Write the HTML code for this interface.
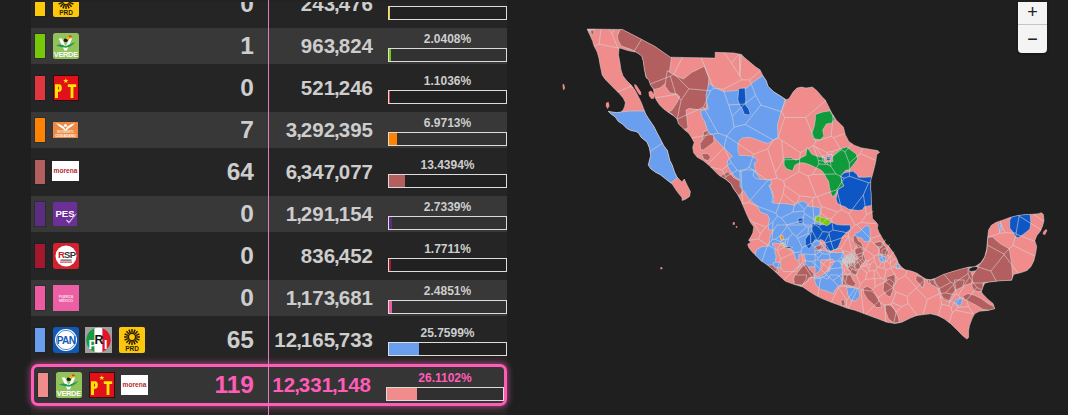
<!DOCTYPE html>
<html><head><meta charset="utf-8"><style>
*{margin:0;padding:0;box-sizing:border-box}
html,body{width:1068px;height:415px;overflow:hidden;background:#1f1f1f;font-family:"Liberation Sans",Arial,sans-serif}
#tbl{position:absolute;left:31px;top:0;width:476px;height:415px;background:#252525}
.rowl{position:absolute;left:31px;width:476px;height:36px;background:#383838}
.sw{position:absolute;left:35px;width:10px;height:24px;box-shadow:0 0 0 1px rgba(20,24,40,.3)}
.lg{position:absolute;line-height:0}
.lg svg{display:block}
.seats{position:absolute;right:814px;font-weight:bold;font-size:24.5px;line-height:28px;color:#cdcdcd;white-space:nowrap}
.votes{position:absolute;right:695px;font-weight:bold;font-size:20.5px;line-height:22px;color:#cdcdcd;white-space:nowrap}
.pct{position:absolute;left:388px;width:119px;text-align:center;font-weight:bold;font-size:12px;line-height:14px;color:#cdcdcd;white-space:nowrap}
.votes b{font-weight:bold;margin:0 -1px}
.bar{position:absolute;left:388px;width:119px;height:14px;border:1px solid #dcdcdc;background:rgba(0,0,0,.09)}
.bar i{display:block;height:12px}
#topclip{position:absolute;left:31px;top:0;width:476px;height:2px;background:#232323}
#vline{position:absolute;left:268px;top:0;width:1px;height:415px;background:#e07cc0}
.hl{position:absolute;left:31px;top:364px;width:476px;height:42px;border:3px solid #ff5cb8;border-radius:7px;background:#353535;box-shadow:0 0 6px 1px rgba(255,92,184,.55)}
#zoom{position:absolute;left:1018px;top:2px;width:29px;height:51px;background:#f4f4f4;border-radius:0 0 4px 4px;box-shadow:0 1px 3px rgba(0,0,0,.4)}
#zoom div{height:22px;text-align:center;font:18px/21px "Liberation Sans",sans-serif;color:#222}
#zoom div+div{height:29px;line-height:28px;border-top:1px solid #c4c4c4}
#map{position:absolute;left:0;top:0}
</style></head><body>
<div id="tbl"></div>
<div class="rowl" style="top:28px"></div><div class="rowl" style="top:112px"></div><div class="rowl" style="top:196px"></div><div class="rowl" style="top:280px"></div><div class="sw" style="top:-8px;background:#fdca0b"></div><div class="lg" style="left:53px;top:-9px"><svg width="26" height="26" viewBox="0 0 26 26"><rect x="0" y="0" width="26" height="26" rx="2" fill="#fdc80c"/><line x1="17.20" y1="10.00" x2="21.00" y2="10.00" stroke="#2a1e00" stroke-width="1.5"/><line x1="16.88" y1="11.61" x2="20.39" y2="13.06" stroke="#2a1e00" stroke-width="1.5"/><line x1="15.97" y1="12.97" x2="18.66" y2="15.66" stroke="#2a1e00" stroke-width="1.5"/><line x1="14.61" y1="13.88" x2="16.06" y2="17.39" stroke="#2a1e00" stroke-width="1.5"/><line x1="13.00" y1="14.20" x2="13.00" y2="18.00" stroke="#2a1e00" stroke-width="1.5"/><line x1="11.39" y1="13.88" x2="9.94" y2="17.39" stroke="#2a1e00" stroke-width="1.5"/><line x1="10.03" y1="12.97" x2="7.34" y2="15.66" stroke="#2a1e00" stroke-width="1.5"/><line x1="9.12" y1="11.61" x2="5.61" y2="13.06" stroke="#2a1e00" stroke-width="1.5"/><line x1="8.80" y1="10.00" x2="5.00" y2="10.00" stroke="#2a1e00" stroke-width="1.5"/><line x1="9.12" y1="8.39" x2="5.61" y2="6.94" stroke="#2a1e00" stroke-width="1.5"/><line x1="10.03" y1="7.03" x2="7.34" y2="4.34" stroke="#2a1e00" stroke-width="1.5"/><line x1="11.39" y1="6.12" x2="9.94" y2="2.61" stroke="#2a1e00" stroke-width="1.5"/><line x1="13.00" y1="5.80" x2="13.00" y2="2.00" stroke="#2a1e00" stroke-width="1.5"/><line x1="14.61" y1="6.12" x2="16.06" y2="2.61" stroke="#2a1e00" stroke-width="1.5"/><line x1="15.97" y1="7.03" x2="18.66" y2="4.34" stroke="#2a1e00" stroke-width="1.5"/><line x1="16.88" y1="8.39" x2="20.39" y2="6.94" stroke="#2a1e00" stroke-width="1.5"/><circle cx="13" cy="10" r="3.6" fill="#fdc80c" stroke="#2a1e00" stroke-width="1.4"/><text x="13" y="24" text-anchor="middle" style="font-family:'Liberation Sans',sans-serif;font-weight:bold;font-size:6.5px" fill="#2a1e00">PRD</text></svg></div><div class="seats" style="top:-10px">0</div><div class="votes" style="top:-7px">243<b>,</b>476</div><div class="bar" style="top:6px"><i style="width:0.6px;background:#fdca0b"></i></div><div class="sw" style="top:34px;background:#78c80a"></div><div class="lg" style="left:53px;top:33px"><svg width="26" height="26" viewBox="0 0 26 26"><rect x="0" y="0" width="26" height="26" rx="2.5" fill="#92c25a"/><path d="M5.6 5.6 L9 5.6 L12.6 13.6 L16.4 5.6 L19.2 5.6 L13.8 17.6 L11.4 17.6 Z" fill="#fff"/><path d="M3 12.6 Q8 10 12.6 13.2 Q17.5 11 22 9 Q19 13.6 13 14.8 Q8 14.6 3 12.6Z" fill="#1f9a55"/><ellipse cx="12.8" cy="7.2" rx="2" ry="1.9" fill="#1a1a1a"/><path d="M12.4 5.4 Q15.5 1.6 19.4 3.2 L14.6 6.4Z" fill="#f5b400"/><path d="M15.4 2.8 Q17.6 2 19.4 3.2 L16.6 4.4Z" fill="#e5302a"/><text x="12.8" y="24.3" text-anchor="middle" style="font-family:'Liberation Sans',sans-serif;font-weight:bold;font-size:7.4px;letter-spacing:-0.3px" fill="#fff">VERDE</text></svg></div><div class="seats" style="top:32px">1</div><div class="votes" style="top:35px">963<b>,</b>824</div><div class="pct" style="top:32px">2.0408%</div><div class="bar" style="top:48px"><i style="width:2.4px;background:#78c80a"></i></div><div class="sw" style="top:76px;background:#e2363e"></div><div class="lg" style="left:53px;top:75px"><svg width="26" height="26" viewBox="0 0 26 26"><rect x="0" y="0" width="26" height="26" fill="#3a0a0a"/><rect x="1" y="1" width="24" height="24" fill="#e2101a"/><path d="M12.8 3.3 L13.5 5.1 L15.4 5.1 L13.9 6.2 L14.5 8 L12.8 6.9 L11.1 8 L11.7 6.2 L10.2 5.1 L12.1 5.1Z" fill="#ffe600"/><path fill-rule="evenodd" d="M2 9.3 H6.2 Q8.8 9.3 8.8 13 Q8.8 16.8 6.2 16.8 H5 V23.1 H2Z M5 11.7 H5.9 Q6 11.7 6 13 Q6 14.4 5.9 14.4 H5Z" fill="#ffe600"/><path d="M14.8 9.3 H23.2 V12.1 H20.4 V23.1 H17.6 V12.1 H14.8Z" fill="#ffe600"/></svg></div><div class="seats" style="top:74px">0</div><div class="votes" style="top:77px">521<b>,</b>246</div><div class="pct" style="top:74px">1.1036%</div><div class="bar" style="top:90px"><i style="width:1.3px;background:#e2363e"></i></div><div class="sw" style="top:118px;background:#ff8200"></div><div class="lg" style="left:53px;top:122px"><svg width="25" height="16" viewBox="0 0 25 16"><rect x="0" y="0" width="25" height="16" fill="#ee8a45"/><path d="M3 1 Q7.5 2 10.5 4.5 L12.5 7.5 L14.5 4.5 Q17.5 2 22 1 Q19.5 4.5 15.5 6.5 L13.3 8.6 L11.7 8.6 L9.5 6.5 Q5.5 4.5 3 1Z" fill="#fff"/><circle cx="12.5" cy="3.6" r="1.5" fill="#fff"/><text x="12.5" y="11.3" text-anchor="middle" style="font-family:'Liberation Sans',sans-serif;font-weight:bold;font-size:2.6px" fill="#fde6d4">MOVIMIENTO</text><text x="12.5" y="14.6" text-anchor="middle" style="font-family:'Liberation Sans',sans-serif;font-weight:bold;font-size:3.4px" fill="#fff">CIUDADANO</text></svg></div><div class="seats" style="top:116px">7</div><div class="votes" style="top:119px">3<b>,</b>292<b>,</b>395</div><div class="pct" style="top:116px">6.9713%</div><div class="bar" style="top:132px"><i style="width:8.2px;background:#ff8200"></i></div><div class="sw" style="top:160px;background:#b35f5f"></div><div class="lg" style="left:52px;top:161px"><svg width="27" height="20" viewBox="0 0 27 20"><rect x="0" y="0" width="27" height="20" fill="#fff"/><text x="13.5" y="12.2" text-anchor="middle" style="font-family:'Liberation Sans',sans-serif;font-weight:bold;font-size:6.6px" fill="#b9282e">morena</text></svg></div><div class="seats" style="top:158px">64</div><div class="votes" style="top:161px">6<b>,</b>347<b>,</b>077</div><div class="pct" style="top:158px">13.4394%</div><div class="bar" style="top:174px"><i style="width:15.7px;background:#b35f5f"></i></div><div class="sw" style="top:202px;background:#5b2c80"></div><div class="lg" style="left:53px;top:202px"><svg width="24" height="24" viewBox="0 0 24 24"><rect x="0" y="0" width="24" height="24" rx="1" fill="#6c2f98"/><text x="2.5" y="14.5" style="font-family:'Liberation Sans',sans-serif;font-weight:bold;font-size:9.5px" fill="#fff">PES</text><path d="M13 18.5 L16 21.5 L24 11.5 L22.5 12 L16 19.5 L14 17.5Z" fill="#d9c3ee"/></svg></div><div class="seats" style="top:200px">0</div><div class="votes" style="top:203px">1<b>,</b>291<b>,</b>154</div><div class="pct" style="top:200px">2.7339%</div><div class="bar" style="top:216px"><i style="width:3.2px;background:#5b2c80"></i></div><div class="sw" style="top:244px;background:#a3182c"></div><div class="lg" style="left:53px;top:243px"><svg width="26" height="26" viewBox="0 0 26 26"><rect x="0" y="0" width="26" height="26" rx="2.5" fill="#d5202e"/><circle cx="13" cy="13" r="10.5" fill="#fff"/><text x="5" y="14.5" style="font-family:'Liberation Sans',sans-serif;font-weight:bold;font-size:9.5px;letter-spacing:-0.6px" fill="#c8202c">R</text><text x="11" y="14.5" style="font-family:'Liberation Sans',sans-serif;font-weight:bold;font-size:9.5px;letter-spacing:-0.6px" fill="#333">SP</text><rect x="7.5" y="16.5" width="11" height="1.2" fill="#555"/><rect x="7" y="18.6" width="12" height="1" fill="#d5202e"/></svg></div><div class="seats" style="top:242px">0</div><div class="votes" style="top:245px">836<b>,</b>452</div><div class="pct" style="top:242px">1.7711%</div><div class="bar" style="top:258px"><i style="width:2.1px;background:#a3182c"></i></div><div class="sw" style="top:286px;background:#ee5aa2"></div><div class="lg" style="left:53px;top:285px"><svg width="26" height="26" viewBox="0 0 26 26"><rect x="0" y="0" width="26" height="26" fill="#ec5fa4"/><text x="13" y="12.5" text-anchor="middle" style="font-family:'Liberation Sans',sans-serif;font-weight:bold;font-size:3.6px" fill="#fbe0ee">FUERZA</text><text x="13" y="16.5" text-anchor="middle" style="font-family:'Liberation Sans',sans-serif;font-weight:bold;font-size:3.6px" fill="#fbe0ee">MÉXICO</text></svg></div><div class="seats" style="top:284px">0</div><div class="votes" style="top:287px">1<b>,</b>173<b>,</b>681</div><div class="pct" style="top:284px">2.4851%</div><div class="bar" style="top:300px"><i style="width:2.9px;background:#ee5aa2"></i></div><div class="sw" style="top:328px;background:#6a9ff0"></div><div class="lg" style="left:53px;top:327px"><svg width="26" height="26" viewBox="0 0 26 26"><rect x="0" y="0" width="26" height="26" rx="3" fill="#1159b6"/><circle cx="13" cy="13" r="11" fill="#fff"/><circle cx="13" cy="13" r="9.6" fill="none" stroke="#1159b6" stroke-width="0.7"/><text x="13" y="16.8" text-anchor="middle" style="font-family:'Liberation Sans',sans-serif;font-weight:bold;font-size:10px;letter-spacing:-0.6px" fill="#1159b6">PAN</text></svg></div><div class="lg" style="left:85px;top:327px"><svg width="27" height="26" viewBox="0 0 27 26"><rect x="0" y="0" width="27" height="26" fill="#a0a0a0"/><clipPath id="pric"><circle cx="13.5" cy="13" r="12.2"/></clipPath><g clip-path="url(#pric)"><rect x="0" y="0" width="9.5" height="26" fill="#169b44"/><rect x="9.5" y="0" width="8" height="26" fill="#fff"/><rect x="17.5" y="0" width="10" height="26" fill="#e2142a"/></g><text x="3.6" y="21.5" style="font-family:'Liberation Sans',sans-serif;font-weight:bold;font-size:12.5px" fill="#fff">P</text><text x="9.6" y="16.5" style="font-family:'Liberation Sans',sans-serif;font-weight:bold;font-size:12.5px" fill="#111">R</text><text x="19" y="21.5" style="font-family:'Liberation Sans',sans-serif;font-weight:bold;font-size:12.5px" fill="#fff">I</text></svg></div><div class="lg" style="left:119px;top:327px"><svg width="26" height="26" viewBox="0 0 26 26"><rect x="0" y="0" width="26" height="26" rx="2" fill="#fdc80c"/><line x1="17.20" y1="10.00" x2="21.00" y2="10.00" stroke="#2a1e00" stroke-width="1.5"/><line x1="16.88" y1="11.61" x2="20.39" y2="13.06" stroke="#2a1e00" stroke-width="1.5"/><line x1="15.97" y1="12.97" x2="18.66" y2="15.66" stroke="#2a1e00" stroke-width="1.5"/><line x1="14.61" y1="13.88" x2="16.06" y2="17.39" stroke="#2a1e00" stroke-width="1.5"/><line x1="13.00" y1="14.20" x2="13.00" y2="18.00" stroke="#2a1e00" stroke-width="1.5"/><line x1="11.39" y1="13.88" x2="9.94" y2="17.39" stroke="#2a1e00" stroke-width="1.5"/><line x1="10.03" y1="12.97" x2="7.34" y2="15.66" stroke="#2a1e00" stroke-width="1.5"/><line x1="9.12" y1="11.61" x2="5.61" y2="13.06" stroke="#2a1e00" stroke-width="1.5"/><line x1="8.80" y1="10.00" x2="5.00" y2="10.00" stroke="#2a1e00" stroke-width="1.5"/><line x1="9.12" y1="8.39" x2="5.61" y2="6.94" stroke="#2a1e00" stroke-width="1.5"/><line x1="10.03" y1="7.03" x2="7.34" y2="4.34" stroke="#2a1e00" stroke-width="1.5"/><line x1="11.39" y1="6.12" x2="9.94" y2="2.61" stroke="#2a1e00" stroke-width="1.5"/><line x1="13.00" y1="5.80" x2="13.00" y2="2.00" stroke="#2a1e00" stroke-width="1.5"/><line x1="14.61" y1="6.12" x2="16.06" y2="2.61" stroke="#2a1e00" stroke-width="1.5"/><line x1="15.97" y1="7.03" x2="18.66" y2="4.34" stroke="#2a1e00" stroke-width="1.5"/><line x1="16.88" y1="8.39" x2="20.39" y2="6.94" stroke="#2a1e00" stroke-width="1.5"/><circle cx="13" cy="10" r="3.6" fill="#fdc80c" stroke="#2a1e00" stroke-width="1.4"/><text x="13" y="24" text-anchor="middle" style="font-family:'Liberation Sans',sans-serif;font-weight:bold;font-size:6.5px" fill="#2a1e00">PRD</text></svg></div><div class="seats" style="top:326px">65</div><div class="votes" style="top:329px">12<b>,</b>165<b>,</b>733</div><div class="pct" style="top:326px">25.7599%</div><div class="bar" style="top:342px"><i style="width:30.1px;background:#6a9ff0"></i></div>
<div class="hl"></div><div class="sw" style="left:38px;top:373px;background:#f08c8c"></div><div class="lg" style="left:56px;top:372px"><svg width="26" height="26" viewBox="0 0 26 26"><rect x="0" y="0" width="26" height="26" rx="2.5" fill="#92c25a"/><path d="M5.6 5.6 L9 5.6 L12.6 13.6 L16.4 5.6 L19.2 5.6 L13.8 17.6 L11.4 17.6 Z" fill="#fff"/><path d="M3 12.6 Q8 10 12.6 13.2 Q17.5 11 22 9 Q19 13.6 13 14.8 Q8 14.6 3 12.6Z" fill="#1f9a55"/><ellipse cx="12.8" cy="7.2" rx="2" ry="1.9" fill="#1a1a1a"/><path d="M12.4 5.4 Q15.5 1.6 19.4 3.2 L14.6 6.4Z" fill="#f5b400"/><path d="M15.4 2.8 Q17.6 2 19.4 3.2 L16.6 4.4Z" fill="#e5302a"/><text x="12.8" y="24.3" text-anchor="middle" style="font-family:'Liberation Sans',sans-serif;font-weight:bold;font-size:7.4px;letter-spacing:-0.3px" fill="#fff">VERDE</text></svg></div><div class="lg" style="left:89px;top:372px"><svg width="26" height="26" viewBox="0 0 26 26"><rect x="0" y="0" width="26" height="26" fill="#3a0a0a"/><rect x="1" y="1" width="24" height="24" fill="#e2101a"/><path d="M12.8 3.3 L13.5 5.1 L15.4 5.1 L13.9 6.2 L14.5 8 L12.8 6.9 L11.1 8 L11.7 6.2 L10.2 5.1 L12.1 5.1Z" fill="#ffe600"/><path fill-rule="evenodd" d="M2 9.3 H6.2 Q8.8 9.3 8.8 13 Q8.8 16.8 6.2 16.8 H5 V23.1 H2Z M5 11.7 H5.9 Q6 11.7 6 13 Q6 14.4 5.9 14.4 H5Z" fill="#ffe600"/><path d="M14.8 9.3 H23.2 V12.1 H20.4 V23.1 H17.6 V12.1 H14.8Z" fill="#ffe600"/></svg></div><div class="lg" style="left:121px;top:375px"><svg width="27" height="20" viewBox="0 0 27 20"><rect x="0" y="0" width="27" height="20" fill="#fff"/><text x="13.5" y="12.2" text-anchor="middle" style="font-family:'Liberation Sans',sans-serif;font-weight:bold;font-size:6.6px" fill="#b9282e">morena</text></svg></div><div class="seats" style="top:371px;color:#ff5cb8">119</div><div class="votes" style="top:374px;right:697px;color:#ff5cb8">12<b>,</b>331<b>,</b>148</div><div class="pct" style="top:371px;left:386px;width:118px;color:#ff5cb8">26.1102%</div><div class="bar" style="top:387px;left:386px;width:118px"><i style="width:30.3px;background:#f08c8c"></i></div>
<div id="topclip"></div>
<div id="vline"></div>
<svg id="map" width="1068" height="415" viewBox="0 0 1068 415">
<defs><clipPath id="mx"><polygon points="587.2,29.0 622.5,29.5 640.0,38.5 655.0,46.5 670.4,57.2 715.2,58.1 715.2,52.3 734.1,53.0 741.4,54.5 745.0,58.1 750.4,62.6 755.8,67.1 760.0,69.8 762.7,75.3 766.3,80.7 768.1,86.2 773.5,91.6 780.7,96.1 786.2,99.7 788.9,98.8 793.4,91.6 797.0,88.0 801.5,87.1 806.0,88.0 812.4,87.1 816.9,90.7 822.3,97.0 825.3,100.0 828.9,107.2 831.6,112.7 836.2,119.9 838.9,122.6 843.4,127.1 845.2,134.4 848.8,141.6 854.2,145.2 861.5,147.9 866.9,148.8 872.3,149.7 877.8,150.6 879.6,152.4 876.9,154.2 875.5,162.7 872.5,174.7 870.8,180.0 870.6,189.2 871.1,192.0 871.5,205.0 872.0,212.0 872.5,218.4 874.5,220.5 876.5,222.5 878.0,225.0 877.4,228.2 879.1,232.5 882.3,238.0 885.6,243.4 888.3,245.8 892.6,251.6 896.2,257.4 898.4,263.1 901.3,266.8 904.9,269.7 911.4,271.1 917.2,273.3 922.3,276.9 925.9,279.1 930.2,279.8 935.0,278.5 943.4,274.4 952.4,271.6 961.5,268.9 968.7,267.1 975.0,266.7 980.8,262.8 984.6,257.0 986.6,249.3 987.5,239.7 988.5,230.1 991.4,225.2 996.2,222.3 1002.0,220.4 1009.7,217.5 1017.4,215.6 1025.1,214.6 1032.8,214.3 1038.6,213.7 1041.5,212.7 1043.4,214.6 1044.0,220.4 1042.5,226.2 1040.5,231.0 1036.7,235.8 1034.8,240.7 1036.7,246.4 1035.7,253.2 1033.8,260.9 1030.9,266.7 1027.0,270.5 1021.3,272.5 1017.4,273.4 1013.6,274.4 1012.6,277.3 1011.6,280.2 1000.0,280.8 988.0,282.2 984.6,283.4 983.0,286.8 981.3,291.8 983.0,294.3 988.0,299.4 993.1,303.6 994.8,308.7 988.0,310.4 979.6,311.2 974.5,313.8 972.0,318.8 969.5,325.6 968.6,330.6 968.6,337.4 966.9,339.1 962.7,335.7 957.6,330.6 950.9,323.9 944.1,318.8 937.4,315.4 930.6,313.8 923.9,314.6 917.1,315.4 910.4,318.0 901.9,322.2 895.2,323.5 886.8,322.2 878.0,318.8 870.3,316.0 862.6,313.1 854.9,310.2 847.2,308.2 839.5,305.3 831.7,302.4 822.1,298.6 814.4,294.7 808.6,290.9 802.8,287.0 793.2,284.1 785.4,281.2 779.6,276.0 774.5,271.0 767.1,264.8 761.0,260.7 755.8,255.5 751.7,251.5 748.7,247.4 747.7,244.3 750.7,242.2 748.7,240.2 750.7,237.1 752.8,233.0 753.8,226.9 750.7,222.8 746.5,214.0 744.0,208.0 741.0,201.0 737.5,194.2 733.5,188.8 730.6,183.4 725.2,178.9 718.9,175.3 714.4,170.7 708.9,165.3 703.5,160.8 697.2,157.2 693.6,152.7 692.7,147.2 694.2,142.6 691.8,137.9 688.7,133.2 684.8,130.1 681.7,127.0 678.5,123.8 677.0,119.1 673.8,116.0 669.1,112.9 663.7,109.0 659.7,105.0 656.6,100.4 654.3,95.7 653.5,89.4 650.4,84.7 648.8,80.0 646.0,77.4 644.2,68.4 643.3,61.2 641.5,55.7 636.0,52.1 632.4,51.5 627.0,50.3 621.5,48.5 619.0,48.0 618.5,55.0 619.8,62.0 621.0,70.0 623.0,76.0 626.8,80.8 631.2,85.1 635.5,90.9 638.4,96.7 641.3,102.5 643.5,108.3 645.7,114.0 648.5,118.4 651.4,122.7 654.3,127.1 657.2,132.9 660.2,138.6 663.9,145.8 667.5,150.6 669.9,160.2 672.3,165.1 674.7,172.3 677.1,177.1 681.9,181.9 684.3,179.0 686.7,184.3 690.4,191.6 689.6,196.4 686.0,199.0 682.2,200.5 681.9,197.6 677.1,191.6 672.3,184.3 666.3,179.5 660.2,174.7 655.4,172.3 650.6,168.7 648.2,165.1 650.6,155.4 649.4,148.2 647.0,142.2 641.0,137.3 638.4,132.9 635.5,131.4 631.2,130.7 626.8,128.5 622.5,124.2 618.1,121.3 615.2,117.0 610.9,114.0 608.0,111.2 612.4,111.9 616.7,112.6 621.0,111.9 623.2,109.7 624.6,106.8 625.4,102.5 623.2,98.1 619.6,93.8 615.2,89.5 609.5,83.7 605.1,79.3 602.2,75.0 599.9,63.9 599.0,58.5 597.2,52.1 593.6,44.9 592.7,41.3 589.0,33.1"/></clipPath></defs>
<polygon points="587.2,29.0 622.5,29.5 640.0,38.5 655.0,46.5 670.4,57.2 715.2,58.1 715.2,52.3 734.1,53.0 741.4,54.5 745.0,58.1 750.4,62.6 755.8,67.1 760.0,69.8 762.7,75.3 766.3,80.7 768.1,86.2 773.5,91.6 780.7,96.1 786.2,99.7 788.9,98.8 793.4,91.6 797.0,88.0 801.5,87.1 806.0,88.0 812.4,87.1 816.9,90.7 822.3,97.0 825.3,100.0 828.9,107.2 831.6,112.7 836.2,119.9 838.9,122.6 843.4,127.1 845.2,134.4 848.8,141.6 854.2,145.2 861.5,147.9 866.9,148.8 872.3,149.7 877.8,150.6 879.6,152.4 876.9,154.2 875.5,162.7 872.5,174.7 870.8,180.0 870.6,189.2 871.1,192.0 871.5,205.0 872.0,212.0 872.5,218.4 874.5,220.5 876.5,222.5 878.0,225.0 877.4,228.2 879.1,232.5 882.3,238.0 885.6,243.4 888.3,245.8 892.6,251.6 896.2,257.4 898.4,263.1 901.3,266.8 904.9,269.7 911.4,271.1 917.2,273.3 922.3,276.9 925.9,279.1 930.2,279.8 935.0,278.5 943.4,274.4 952.4,271.6 961.5,268.9 968.7,267.1 975.0,266.7 980.8,262.8 984.6,257.0 986.6,249.3 987.5,239.7 988.5,230.1 991.4,225.2 996.2,222.3 1002.0,220.4 1009.7,217.5 1017.4,215.6 1025.1,214.6 1032.8,214.3 1038.6,213.7 1041.5,212.7 1043.4,214.6 1044.0,220.4 1042.5,226.2 1040.5,231.0 1036.7,235.8 1034.8,240.7 1036.7,246.4 1035.7,253.2 1033.8,260.9 1030.9,266.7 1027.0,270.5 1021.3,272.5 1017.4,273.4 1013.6,274.4 1012.6,277.3 1011.6,280.2 1000.0,280.8 988.0,282.2 984.6,283.4 983.0,286.8 981.3,291.8 983.0,294.3 988.0,299.4 993.1,303.6 994.8,308.7 988.0,310.4 979.6,311.2 974.5,313.8 972.0,318.8 969.5,325.6 968.6,330.6 968.6,337.4 966.9,339.1 962.7,335.7 957.6,330.6 950.9,323.9 944.1,318.8 937.4,315.4 930.6,313.8 923.9,314.6 917.1,315.4 910.4,318.0 901.9,322.2 895.2,323.5 886.8,322.2 878.0,318.8 870.3,316.0 862.6,313.1 854.9,310.2 847.2,308.2 839.5,305.3 831.7,302.4 822.1,298.6 814.4,294.7 808.6,290.9 802.8,287.0 793.2,284.1 785.4,281.2 779.6,276.0 774.5,271.0 767.1,264.8 761.0,260.7 755.8,255.5 751.7,251.5 748.7,247.4 747.7,244.3 750.7,242.2 748.7,240.2 750.7,237.1 752.8,233.0 753.8,226.9 750.7,222.8 746.5,214.0 744.0,208.0 741.0,201.0 737.5,194.2 733.5,188.8 730.6,183.4 725.2,178.9 718.9,175.3 714.4,170.7 708.9,165.3 703.5,160.8 697.2,157.2 693.6,152.7 692.7,147.2 694.2,142.6 691.8,137.9 688.7,133.2 684.8,130.1 681.7,127.0 678.5,123.8 677.0,119.1 673.8,116.0 669.1,112.9 663.7,109.0 659.7,105.0 656.6,100.4 654.3,95.7 653.5,89.4 650.4,84.7 648.8,80.0 646.0,77.4 644.2,68.4 643.3,61.2 641.5,55.7 636.0,52.1 632.4,51.5 627.0,50.3 621.5,48.5 619.0,48.0 618.5,55.0 619.8,62.0 621.0,70.0 623.0,76.0 626.8,80.8 631.2,85.1 635.5,90.9 638.4,96.7 641.3,102.5 643.5,108.3 645.7,114.0 648.5,118.4 651.4,122.7 654.3,127.1 657.2,132.9 660.2,138.6 663.9,145.8 667.5,150.6 669.9,160.2 672.3,165.1 674.7,172.3 677.1,177.1 681.9,181.9 684.3,179.0 686.7,184.3 690.4,191.6 689.6,196.4 686.0,199.0 682.2,200.5 681.9,197.6 677.1,191.6 672.3,184.3 666.3,179.5 660.2,174.7 655.4,172.3 650.6,168.7 648.2,165.1 650.6,155.4 649.4,148.2 647.0,142.2 641.0,137.3 638.4,132.9 635.5,131.4 631.2,130.7 626.8,128.5 622.5,124.2 618.1,121.3 615.2,117.0 610.9,114.0 608.0,111.2 612.4,111.9 616.7,112.6 621.0,111.9 623.2,109.7 624.6,106.8 625.4,102.5 623.2,98.1 619.6,93.8 615.2,89.5 609.5,83.7 605.1,79.3 602.2,75.0 599.9,63.9 599.0,58.5 597.2,52.1 593.6,44.9 592.7,41.3 589.0,33.1" fill="#f08c8c" />
<polygon points="648.5,92.0 651.0,90.5 654.0,94.0 654.3,98.5 651.5,98.9 649.0,96.0" fill="#f08c8c" />
<polygon points="634.0,84.5 636.0,84.4 641.0,92.0 641.3,95.2 639.0,94.5 635.0,88.0" fill="#f08c8c" />
<polygon points="606.0,103.0 608.5,101.8 609.5,106.0 607.5,109.0 605.8,106.0" fill="#f08c8c" />
<polygon points="1043.5,231.5 1046.0,229.0 1047.3,230.5 1045.0,234.9 1042.5,234.0" fill="#f08c8c" />
<polygon points="733.0,222.0 735.0,222.5 734.5,225.0 732.5,224.5" fill="#f08c8c" />
<polygon points="736.0,226.0 737.5,226.5 737.0,228.0 735.7,227.5" fill="#f08c8c" />
<polygon points="562.5,84.5 564.0,84.0 565.0,88.0 564.0,90.0 563.0,89.5" fill="#f08c8c" />
<polygon points="660.3,267.5 661.8,267.0 662.6,268.6 661.5,269.6 660.4,269.0" fill="#f08c8c" />
<g clip-path="url(#mx)" stroke="#d2d2d2" stroke-width="0.7" stroke-opacity="0.85" stroke-linejoin="round">
<polygon points="608.0,111.2 610.9,114.0 615.2,117.0 618.1,121.3 622.5,124.2 626.8,128.5 631.2,130.7 635.5,131.4 638.4,132.9 641.0,137.3 647.0,142.2 649.4,148.2 650.6,155.4 648.2,165.1 650.6,168.7 655.4,172.3 660.2,174.7 666.3,179.5 671.0,183.0 679.0,176.0 677.1,177.1 674.7,172.3 672.3,165.1 669.9,160.2 667.5,150.6 663.9,145.8 660.2,138.6 657.2,132.9 654.3,127.1 651.4,122.7 648.5,118.4 645.7,114.0 644.5,111.0 630.0,111.0 621.0,111.9 616.7,112.6 612.4,111.9" fill="#6a9ff0" />
<polygon points="617.5,35.5 621.5,27.0 640.0,35.5 655.0,43.5 672.0,54.0 670.0,68.0 668.0,78.0 665.0,84.0 660.0,88.0 654.0,89.5 650.0,86.0 647.0,80.0 644.0,70.0 642.0,58.0 636.0,52.0 630.0,49.0 621.0,46.0 618.0,40.0" fill="#b35f5f" />
<polygon points="667.2,70.7 674.5,75.3 683.5,78.9 691.6,72.5 704.3,66.2 708.8,78.0 707.9,94.2 706.0,108.0 699.0,109.7 689.0,108.5 686.0,110.0 688.0,128.0 683.0,130.0 678.0,124.0 672.0,114.0 668.0,112.0 672.0,110.0 676.0,104.0 680.0,97.0 677.0,94.0 670.0,93.0 665.0,86.0" fill="#b35f5f" />
<polygon points="703.6,131.7 710.0,130.0 711.0,140.0 706.0,146.0 702.0,146.0" fill="#b35f5f" />
<polygon points="708.8,83.4 717.9,88.8 723.3,91.5 736.0,90.6 746.8,87.9 754.0,81.6 762.5,75.5 766.3,80.7 768.1,86.2 773.5,91.6 780.7,96.1 786.0,100.0 781.0,112.0 777.5,125.0 778.0,138.6 775.0,139.0 767.8,143.5 762.3,141.7 749.7,137.2 742.4,138.1 739.7,140.0 737.9,143.6 737.9,150.8 739.7,155.4 745.1,155.4 752.3,156.3 757.8,159.9 754.1,163.5 755.9,172.5 759.6,178.0 763.2,183.4 768.6,185.2 772.2,190.6 774.0,199.7 770.4,208.7 765.0,206.9 757.8,203.3 752.3,199.7 748.7,194.2 746.9,188.8 741.5,181.6 734.2,176.2 730.6,170.7 727.0,165.3 727.9,159.9 732.4,156.3 728.8,152.7 721.6,145.4 716.2,140.0 713.5,136.3 708.2,131.9 706.6,127.5 705.0,122.1 701.7,116.7 700.6,110.7 708.2,109.1 706.6,101.5 706.0,95.0" fill="#6a9ff0" />
<polygon points="763.0,180.0 770.5,179.7 771.0,185.0 764.0,185.2" fill="#6a9ff0" />
<polygon points="738.7,88.5 745.0,87.9 745.9,99.7 745.0,104.2 748.6,108.7 750.4,114.1 748.0,115.0 744.1,114.1 742.3,108.7 739.6,105.1 737.8,99.7" fill="#0d56c4" />
<polygon points="700.0,143.5 708.0,132.7 713.5,135.4 714.0,142.0 707.1,147.2 703.5,149.9 700.5,149.5" fill="#b35f5f" />
<polygon points="701.7,153.6 708.0,153.6 710.7,157.2 708.0,160.8 703.5,159.0" fill="#b35f5f" />
<polygon points="721.6,175.3 727.9,171.6 734.2,178.0 741.5,181.6 745.1,187.9 739.0,196.0 734.0,190.0 730.6,183.4 725.2,178.9 720.0,177.0" fill="#b35f5f" />
<polygon points="815.4,114.5 822.7,112.0 829.9,110.8 834.7,119.3 832.3,122.9 826.3,124.1 822.7,130.1 823.9,136.1 820.2,139.8 813.0,138.6 811.8,133.7 814.2,126.5 815.4,119.3" fill="#0f9a3c" />
<polygon points="784.1,157.8 791.3,157.8 796.1,160.2 805.8,155.4 807.0,147.0 811.8,154.2 817.8,156.6 825.1,157.8 832.3,156.6 837.1,151.8 841.9,148.2 846.7,147.0 851.6,150.6 856.4,154.2 857.6,159.0 854.0,163.9 849.2,169.9 846.1,170.0 843.2,172.9 841.0,175.8 841.8,181.6 843.9,185.9 840.3,188.1 838.1,189.5 836.7,191.7 835.3,194.6 832.4,196.8 830.9,193.1 829.5,187.4 828.7,181.6 825.9,177.2 823.7,172.9 821.0,170.0 815.4,167.5 810.6,165.1 804.6,163.1 799.8,162.7 794.9,165.1 792.5,171.1 786.5,168.7 784.1,165.1" fill="#0f9a3c" />
<polygon points="823.5,155.5 832.0,154.5 833.0,161.5 824.5,162.5" fill="#f08c8c" />
<polygon points="826.5,157.0 830.5,156.5 831.0,160.0 827.0,160.5" fill="#0d56c4" />
<polygon points="841.0,175.8 843.9,172.9 846.7,172.3 852.8,171.1 857.0,174.3 858.4,177.2 865.6,177.2 875.0,176.5 875.0,205.0 867.1,206.2 864.2,206.9 862.7,209.8 858.4,210.5 852.6,209.8 848.3,209.1 845.4,206.9 841.0,205.4 837.4,203.3 836.0,198.9 836.7,196.0 838.1,189.5 840.3,188.1 843.9,185.9 841.8,181.6" fill="#0d56c4" />
<polygon points="740.0,170.0 754.5,170.0 753.0,175.8 756.6,178.7 761.7,179.4 771.1,179.4 771.1,184.5 768.9,185.2 770.4,188.8 771.1,191.0 772.5,196.0 772.1,198.9 771.8,202.5 777.6,203.6 783.4,203.3 790.6,204.4 795.0,205.4 797.9,202.5 802.2,201.1 806.5,202.5 808.0,206.2 815.2,206.9 820.0,207.6 820.0,230.0 768.9,230.0 768.2,225.0 769.7,219.2 767.5,214.8 760.3,212.0 757.4,206.2 753.0,202.5 748.7,198.9 744.3,191.7 740.0,186.6" fill="#6a9ff0" />
<polygon points="776.9,225.0 820.0,225.0 820.0,266.2 809.4,267.0 797.9,267.0 777.6,267.0 766.0,266.2 760.3,263.3 756.6,259.7 755.2,253.9 756.6,249.6 761.7,246.7 768.9,246.0 769.7,239.5 770.4,235.1 773.3,230.8" fill="#6a9ff0" />
<polygon points="772.5,243.1 779.1,243.5 783.4,246.0 787.7,248.1 793.5,250.8 794.7,256.1 796.1,260.4 799.3,259.7 800.8,262.9 798.6,267.0 796.4,271.6 783.4,271.6 780.5,267.0 776.9,263.3 775.4,261.2 776.2,256.1 774.7,251.8 775.4,246.7 772.5,245.3" fill="#f08c8c" />
<polygon points="766.0,265.5 771.8,264.8 777.6,267.0 778.3,272.7 774.7,271.3 768.9,269.1 765.3,267.7" fill="#b35f5f" />
<polygon points="793.9,280.5 796.0,274.7 800.4,268.9 803.3,265.3 806.9,264.6 809.1,268.9 813.4,273.3 814.1,276.9 809.1,277.6 806.2,282.0 801.1,284.8 795.3,284.8" fill="#b35f5f" />
<polygon points="802.2,259.7 805.1,259.0 805.8,261.9 802.9,262.9" fill="#b35f5f" />
<polygon points="779.8,235.8 782.7,235.1 783.7,239.5 781.2,240.6" fill="#ff8a00" />
<polygon points="780.5,243.1 784.8,243.8 784.1,245.5 781.2,245.0" fill="#ff8a00" />
<polygon points="783.4,247.4 789.2,246.7 792.8,247.6 787.0,248.6" fill="#1f1f1f" />
<polygon points="815.0,250.3 826.6,251.0 829.5,252.5 843.9,252.5 843.9,256.8 841.8,265.5 842.5,272.7 841.8,285.0 823.7,285.0 815.0,280.0" fill="#6a9ff0" />
<polygon points="820.8,259.7 829.5,259.7 830.9,265.5 829.5,271.3 823.7,271.3 820.8,267.0" fill="#f08c8c" />
<polygon points="855.2,233.6 859.5,231.5 863.9,227.1 867.7,225.0 869.8,228.2 870.4,235.8 869.3,241.2 865.0,241.8 861.7,238.0 857.4,237.4 854.6,235.8" fill="#6a9ff0" />
<polygon points="878.7,255.4 883.0,254.7 885.9,258.3 884.4,261.2 879.4,261.2" fill="#6a9ff0" />
<polygon points="843.2,258.3 848.3,253.9 854.1,255.4 855.5,261.2 852.6,266.2 846.8,267.0 843.2,262.6" fill="#c9b4b6" />
<polygon points="853.3,235.8 856.2,235.8 858.4,240.9 861.3,242.4 863.5,248.1 861.3,251.0 858.4,248.9 856.2,245.3 853.3,242.4" fill="#b35f5f" />
<polygon points="857.0,251.8 861.3,251.0 864.2,255.4 865.6,261.2 862.7,263.3 858.4,259.7" fill="#b35f5f" />
<polygon points="846.8,263.3 852.6,262.6 858.4,265.5 858.4,271.3 855.5,275.6 851.2,274.2 848.3,268.4" fill="#b35f5f" />
<polygon points="843.2,274.9 848.3,274.2 852.6,277.1 854.1,285.0 842.5,285.0" fill="#b35f5f" />
<polygon points="878.7,246.7 883.0,243.8 886.6,248.1 887.3,253.9 883.0,255.4 879.4,252.5" fill="#b35f5f" />
<polygon points="875.0,243.1 880.1,240.9 883.0,243.8 878.7,246.7" fill="#b35f5f" />
<polygon points="886.6,277.1 895.0,274.2 895.0,285.0 887.3,285.0" fill="#b35f5f" />
<polygon points="815.0,246.7 822.2,244.5 823.7,248.1 817.9,250.3 815.0,250.3" fill="#b35f5f" />
<polygon points="812.5,223.4 819.8,224.6 827.0,224.6 831.8,222.2 836.6,224.6 842.7,225.0 850.4,225.0 850.4,229.3 846.1,233.0 842.5,236.6 840.3,242.4 838.1,247.4 835.3,249.6 830.9,251.0 828.0,250.3 825.9,248.1 825.1,243.8 823.7,240.9 820.8,239.5 817.9,240.9 815.0,239.5 811.3,246.3 808.9,248.7 805.3,245.1 805.3,239.0 808.9,234.2 811.3,230.6 811.3,227.0" fill="#0d56c4" />
<polygon points="797.9,218.5 803.7,217.7 802.9,223.2 798.6,223.5" fill="#0d56c4" />
<polygon points="815.0,217.7 820.8,217.0 823.7,217.7 827.3,219.2 830.9,221.4 829.5,224.2 826.6,225.7 822.2,223.5 817.9,221.4 815.0,222.1" fill="#7cc80c" />
<polygon points="815.2,216.3 820.0,216.0 820.0,222.1 815.9,221.8" fill="#7cc80c" />
<polygon points="794.5,275.0 806.8,275.0 806.0,279.3 802.4,285.1 794.5,284.4 793.7,279.3" fill="#b35f5f" />
<polygon points="814.0,279.3 823.4,277.2 827.7,279.3 829.9,275.0 837.9,275.0 840.8,277.9 842.2,283.7 837.9,286.6 834.2,290.9 833.5,293.8 826.3,290.9 820.5,289.5 816.2,285.1" fill="#6a9ff0" />
<polygon points="846.5,287.3 855.2,287.3 858.8,289.5 859.6,296.7 855.2,301.0 850.9,300.3 848.0,295.3" fill="#6a9ff0" />
<polygon points="842.9,275.0 850.9,275.0 852.3,279.3 855.9,283.7 853.8,286.6 848.0,285.1 844.4,281.5" fill="#b35f5f" />
<polygon points="840.8,300.3 844.4,299.6 845.1,305.4 841.5,306.1" fill="#b35f5f" />
<polygon points="772.9,262.9 780.6,261.9 780.6,267.7 774.8,267.7" fill="#6a9ff0" />
<polygon points="825.0,261.7 830.8,258.8 834.4,260.3 832.2,265.3 827.9,268.9 825.0,273.3 820.6,276.2 816.3,276.9 814.8,274.7 819.2,271.1 822.1,266.8" fill="#f08c8c" />
<polygon points="798.9,254.5 804.7,255.2 805.4,263.1 801.1,266.8 798.9,261.7" fill="#f08c8c" />
<polygon points="873.8,242.9 880.3,241.4 883.9,244.3 881.8,247.2 876.7,246.5" fill="#b35f5f" />
<polygon points="881.8,250.1 885.4,248.0 888.3,251.6 887.5,255.9 882.5,255.9" fill="#b35f5f" />
<polygon points="879.6,258.1 883.9,255.9 886.1,258.8 884.7,262.4 880.3,261.7" fill="#6a9ff0" />
<polygon points="895.9,264.6 898.4,263.9 899.8,268.2 897.0,268.9" fill="#6a9ff0" />
<polygon points="915.0,279.8 920.1,276.2 923.0,278.3 924.4,283.4 923.0,287.7 919.4,283.4" fill="#b35f5f" />
<polygon points="927.3,279.8 935.0,278.8 935.0,283.4 928.1,283.1" fill="#b35f5f" />
<polygon points="855.0,248.7 860.8,247.2 863.7,251.6 862.2,255.9 857.9,257.4 855.0,254.5" fill="#b35f5f" />
<polygon points="855.0,260.3 859.3,258.8 862.2,263.1 859.3,268.9 855.0,270.4" fill="#b35f5f" />
<polygon points="863.1,288.1 867.7,286.3 873.1,289.9 876.7,297.1 880.3,302.5 881.5,307.5 876.7,307.5 871.3,302.5 867.7,299.5 864.0,293.5" fill="#b35f5f" />
<polygon points="883.9,282.7 889.4,279.0 893.9,282.7 893.0,289.9 890.3,297.1 886.6,295.3 883.0,289.9" fill="#b35f5f" />
<polygon points="884.8,304.4 890.3,305.3 894.8,309.8 898.4,317.0 899.3,322.4 893.9,323.3 888.5,318.8 885.7,311.6" fill="#b35f5f" />
<polygon points="916.5,275.4 921.9,277.2 924.6,280.8 922.8,288.1 919.2,283.6 915.6,279.9" fill="#b35f5f" />
<polygon points="929.1,280.8 934.6,279.0 941.8,277.2 945.4,280.8 949.0,289.9 950.8,297.1 947.2,301.6 943.6,298.9 940.9,290.8 934.6,286.3 931.0,284.5" fill="#b35f5f" />
<polygon points="940.8,295.2 945.0,288.4 947.5,283.4 950.9,285.1 950.9,296.9 949.2,301.9 945.8,300.3" fill="#b35f5f" />
<polygon points="933.5,276.0 943.4,272.0 952.4,269.0 961.5,266.0 968.7,265.0 972.3,276.2 974.1,278.9 970.5,283.4 965.1,285.2 961.5,287.0 956.1,288.8 952.4,294.2 948.8,301.5 943.4,299.7 940.7,292.4 938.9,287.0 934.4,283.4" fill="#b35f5f" />
<polygon points="972.3,276.2 977.8,267.1 983.2,259.9 986.8,250.8 987.5,236.8 992.3,236.8 1000.1,243.6 1008.7,248.4 1009.7,251.3 1011.6,262.8 1012.6,277.3 1011.6,281.0 996.2,282.0 985.0,282.5 983.2,282.5 984.1,290.6 977.8,292.4 974.1,288.8 972.3,283.4" fill="#b35f5f" />
<polygon points="962.7,296.0 967.8,293.5 974.5,295.2 981.3,298.6 988.0,303.6 995.0,307.0 995.0,311.0 983.0,309.5 976.2,305.3 969.5,301.9 964.4,299.4" fill="#b35f5f" />
<polygon points="954.3,280.0 964.4,280.0 962.7,286.8 956.0,290.1" fill="#b35f5f" />
<polygon points="972.0,283.0 983.0,283.0 983.0,291.8 974.5,291.0 972.0,286.8" fill="#b35f5f" />
<polygon points="954.3,301.0 958.0,298.6 962.7,299.0 961.0,305.3 955.5,305.0" fill="#6a9ff0" />
<polygon points="1009.7,220.4 1013.0,214.0 1030.0,213.0 1030.9,222.3 1029.9,229.1 1025.1,232.9 1021.3,235.8 1018.4,237.8 1015.5,236.8 1013.6,233.0 1009.7,228.1" fill="#0d56c4" />
<polygon points="998.5,224.0 1001.0,223.5 1002.0,230.0 999.5,231.0" fill="#6a9ff0" />
<polygon points="968.7,268.9 972.3,266.8 976.9,266.2 978.1,268.0 975.9,270.7 971.4,271.6 969.1,270.7" fill="#1f1f1f" />
<polygon points="590.5,30.0 593.6,29.8 594.0,34.0 591.5,35.2" fill="#b35f5f" />
</g>
<path d="M1035.0 256.2 L1012.8 245.2 M1018.1 273.2 L1004.1 254.6 M1004.1 254.6 L1004.0 254.0 M1012.8 245.2 L1004.0 254.0 M594.8 29.1 L590.0 30.5 M589.8 29.0 L590.0 30.5 M617.6 91.9 L630.6 86.6 M630.6 86.6 L630.7 84.6 M594.4 46.5 L599.1 44.1 M599.1 44.1 L617.8 47.9 M619.0 48.3 L617.8 47.9 M609.0 29.3 L612.0 33.9 M601.0 29.2 L599.1 44.1 M612.0 33.9 L617.8 47.9 M588.8 32.5 L589.2 31.6 M587.8 30.4 L588.3 29.0 M588.4 29.0 L589.2 31.6 M590.0 30.5 L589.2 31.6 M634.1 51.1 L641.6 39.3 M612.0 33.9 L614.0 29.4 M785.1 99.0 L781.5 111.8 M760.5 70.8 L749.6 79.9 M749.6 79.9 L755.6 95.3 M755.6 95.3 L760.9 105.0 M781.5 111.8 L760.9 105.0 M922.9 314.7 L927.4 299.4 M917.1 315.4 L908.2 303.6 M927.4 299.4 L916.3 288.3 M916.3 288.3 L907.1 296.3 M908.2 303.6 L907.1 296.3 M1004.1 254.6 L990.9 271.1 M996.4 281.2 L990.9 271.1 M1012.8 245.2 L1016.3 234.2 M1016.3 234.2 L1035.0 241.4 M749.6 79.9 L741.8 79.8 M755.6 95.3 L744.6 104.1 M741.8 79.8 L723.2 89.3 M744.6 104.1 L728.6 104.9 M723.2 89.3 L728.6 104.9 M744.6 104.1 L732.2 116.2 M728.6 104.9 L732.2 116.2 M831.1 136.3 L815.5 141.6 M831.1 136.3 L833.2 115.2 M815.5 141.6 L805.7 117.5 M825.6 100.6 L805.7 117.5 M845.0 133.7 L833.4 137.5 M833.4 137.5 L831.1 136.3 M781.5 111.8 L784.8 117.5 M784.8 117.5 L805.7 117.5 M852.1 143.8 L845.0 152.0 M845.0 152.0 L841.5 149.7 M833.4 137.5 L840.4 148.6 M841.5 149.7 L840.4 148.6 M849.4 176.3 L868.6 182.7 M849.4 176.3 L849.3 163.1 M860.3 153.5 L849.3 163.1 M860.3 153.5 L875.9 160.4 M870.7 182.4 L868.6 182.7 M862.7 148.1 L860.3 153.5 M845.0 152.0 L849.3 163.1 M891.2 303.8 L896.0 312.3 M891.2 303.8 L892.1 302.6 M892.1 302.6 L901.7 306.7 M896.0 312.3 L901.7 306.7 M893.7 323.3 L896.0 312.3 M885.5 321.7 L885.1 305.7 M885.1 305.7 L891.2 303.8 M896.1 292.0 L907.1 296.3 M896.1 292.0 L892.1 302.6 M908.2 303.6 L901.7 306.7 M974.1 314.7 L973.4 313.8 M982.0 289.9 L976.8 287.5 M976.8 287.5 L966.6 300.2 M966.6 300.2 L968.6 306.6 M973.4 313.8 L968.6 306.6 M1016.3 234.2 L1016.1 233.1 M1041.0 229.8 L1019.2 216.1 M1016.1 233.1 L1019.2 216.1 M1043.7 221.6 L1033.6 214.2 M1019.2 216.1 L1019.0 215.4 M739.9 76.2 L739.7 75.9 M739.9 76.2 L741.2 54.5 M739.7 75.9 L739.4 54.1 M731.5 63.1 L739.7 75.9 M724.0 52.6 L731.5 63.1 M741.8 79.8 L739.9 76.2 M723.2 89.3 L713.6 88.4 M713.6 88.4 L701.3 57.8 M731.5 63.1 L738.9 54.0 M688.9 88.8 L674.1 73.9 M688.9 88.8 L681.1 100.2 M681.1 100.2 L675.8 94.5 M675.8 94.5 L670.3 76.1 M670.3 76.1 L674.1 73.9 M682.3 57.4 L674.1 73.9 M713.6 88.4 L710.5 90.8 M710.5 90.8 L688.9 88.8 M650.2 84.1 L670.3 76.1 M655.3 97.8 L675.8 94.5 M630.6 86.6 L633.2 87.8 M677.2 119.1 L677.1 119.3 M677.2 119.1 L703.5 107.1 M703.5 107.1 L718.0 133.2 M718.0 133.2 L691.8 137.9 M681.1 100.2 L677.2 119.1 M710.5 90.8 L703.5 107.1 M650.0 151.5 L662.5 143.0 M833.2 151.2 L830.9 154.2 M833.2 151.2 L826.4 152.4 M830.9 154.2 L828.2 154.6 M826.4 152.4 L828.2 154.6 M841.5 149.7 L833.2 155.9 M840.4 148.6 L833.2 151.2 M833.2 155.9 L830.9 154.2 M830.4 159.4 L833.2 155.9 M830.4 159.4 L829.8 158.6 M829.8 158.6 L828.2 154.6 M800.4 152.7 L799.7 159.4 M800.4 152.7 L781.7 140.3 M799.7 159.4 L783.3 159.8 M781.7 140.3 L783.3 159.8 M826.4 152.4 L815.1 146.4 M815.5 141.6 L813.7 145.3 M813.7 145.3 L815.1 146.4 M777.9 137.6 L781.7 140.3 M784.8 117.5 L777.9 137.6 M800.4 152.7 L813.4 145.6 M813.7 145.3 L813.4 145.6 M760.9 105.0 L745.2 124.4 M777.9 137.6 L773.3 140.1 M773.3 140.1 L745.2 124.4 M732.2 116.2 L734.1 127.1 M745.2 124.4 L734.1 127.1 M916.5 287.7 L925.8 279.0 M916.3 288.3 L916.5 287.7 M927.4 299.4 L939.0 294.0 M939.0 294.0 L939.2 293.6 M939.2 293.6 L938.4 289.0 M938.4 289.0 L933.9 278.8 M976.8 287.5 L969.4 277.0 M969.4 277.0 L958.4 295.1 M966.6 300.2 L960.2 297.4 M958.4 295.1 L960.2 297.4 M953.6 284.7 L945.4 292.8 M953.6 284.7 L956.7 294.5 M945.4 292.8 L954.8 294.8 M956.7 294.5 L954.8 294.8 M866.4 214.6 L863.4 194.9 M868.6 182.7 L863.4 194.9 M866.4 214.6 L873.3 211.4 M829.8 158.6 L823.6 157.1 M815.1 146.4 L821.9 155.4 M823.6 157.1 L821.9 155.4 M830.4 159.4 L830.9 166.4 M844.2 178.2 L849.4 176.3 M844.2 178.2 L836.0 174.0 M836.0 174.0 L830.9 166.4 M823.6 157.1 L828.2 164.9 M830.9 166.4 L828.2 164.9 M710.8 167.2 L721.8 169.7 M724.5 178.5 L725.8 176.8 M721.8 169.7 L725.8 176.8 M773.3 140.1 L767.7 148.9 M783.3 159.8 L775.5 172.8 M767.7 148.9 L775.5 172.8 M798.8 171.6 L799.7 159.4 M798.8 171.6 L783.7 180.8 M783.7 180.8 L776.9 178.1 M775.5 172.8 L776.9 178.1 M707.7 164.3 L724.0 147.6 M718.0 133.2 L726.6 136.2 M726.6 136.2 L724.0 147.6 M734.1 127.1 L726.7 136.1 M726.6 136.2 L726.7 136.1 M767.7 148.9 L753.8 154.2 M726.7 136.1 L753.8 154.2 M721.8 169.7 L731.3 162.7 M724.0 147.6 L731.3 162.7 M725.8 176.8 L737.3 170.2 M731.3 162.7 L737.3 170.2 M801.7 221.1 L804.7 213.6 M804.7 213.6 L803.6 211.0 M801.7 221.1 L786.6 224.8 M786.6 224.8 L781.4 217.9 M781.4 217.9 L792.7 212.1 M803.6 211.0 L792.7 212.1 M775.9 213.2 L783.2 193.6 M783.2 193.6 L794.8 203.3 M777.5 216.0 L781.4 217.9 M775.9 213.2 L777.5 216.0 M794.8 203.3 L792.7 212.1 M892.7 267.0 L897.7 261.1 M892.7 267.0 L904.9 269.7 M861.0 222.5 L876.3 223.7 M866.4 214.6 L861.0 222.5 M973.4 313.8 L955.5 310.3 M968.6 306.6 L957.8 307.5 M957.8 307.5 L955.5 310.3 M960.2 297.4 L956.5 302.7 M957.8 307.5 L956.5 302.7 M1005.3 232.7 L1001.0 224.7 M1005.3 232.7 L999.2 233.4 M999.2 233.4 L1001.0 224.7 M1016.1 233.1 L1005.3 232.7 M1000.7 220.8 L1001.0 224.7 M1004.0 254.0 L987.0 244.9 M987.7 237.8 L999.2 233.4 M818.3 160.4 L823.1 161.1 M818.3 160.4 L818.8 164.0 M818.8 164.0 L826.4 164.4 M823.1 161.1 L826.4 164.4 M813.4 145.6 L818.3 160.4 M821.9 155.4 L823.1 161.1 M808.0 176.0 L798.8 171.6 M808.0 176.0 L812.3 174.5 M812.3 174.5 L818.8 164.0 M812.3 174.5 L836.0 174.0 M828.2 164.9 L826.4 164.4 M767.6 180.6 L749.1 167.3 M767.6 180.6 L748.1 202.5 M742.6 203.6 L741.1 171.7 M742.6 203.6 L748.1 202.5 M741.1 171.7 L749.1 167.3 M753.8 154.2 L749.1 167.3 M776.9 178.1 L767.6 180.6 M783.2 193.6 L784.5 185.2 M783.7 180.8 L784.5 185.2 M775.9 213.2 L748.1 202.5 M742.2 203.8 L742.6 203.6 M737.3 170.2 L741.1 171.7 M844.2 178.2 L836.8 189.7 M836.8 189.7 L817.1 196.6 M808.0 176.0 L816.2 196.4 M817.1 196.6 L816.2 196.4 M841.8 209.8 L848.9 213.7 M841.8 209.8 L837.3 211.9 M837.3 211.9 L831.5 218.6 M848.9 213.7 L854.8 224.6 M831.5 218.6 L833.1 230.0 M833.1 230.0 L848.5 233.0 M854.8 224.6 L848.5 233.0 M836.8 189.7 L841.8 209.8 M863.4 194.9 L848.9 213.7 M821.4 206.3 L817.1 196.6 M821.4 206.3 L837.3 211.9 M856.6 224.6 L854.8 224.6 M861.0 222.5 L856.6 224.6 M890.8 255.7 L893.8 258.7 M893.8 258.7 L890.6 263.2 M890.8 255.7 L889.9 256.0 M890.6 263.2 L889.9 256.0 M765.7 226.9 L760.4 233.9 M765.7 226.9 L773.0 222.0 M773.0 222.0 L772.1 239.8 M758.3 239.0 L760.4 233.9 M758.3 239.0 L767.6 244.9 M767.6 244.9 L772.1 239.8 M753.4 222.2 L760.4 233.9 M753.4 222.2 L765.7 226.9 M748.7 218.6 L753.4 222.2 M777.5 216.0 L773.0 222.0 M787.2 226.2 L779.8 236.1 M775.2 239.2 L779.8 236.1 M786.6 224.8 L787.2 226.2 M775.2 239.2 L772.1 239.8 M748.8 240.3 L758.3 239.0 M804.4 209.3 L797.4 202.2 M804.4 209.3 L812.5 199.9 M814.2 197.5 L812.5 199.9 M814.2 197.5 L799.8 195.9 M799.8 195.9 L797.4 202.2 M803.6 211.0 L804.4 209.3 M794.8 203.3 L797.4 202.2 M804.7 213.6 L813.8 219.5 M813.8 219.5 L812.5 199.9 M816.2 196.4 L814.2 197.5 M784.5 185.2 L799.8 195.9 M767.7 245.0 L767.6 244.9 M767.7 245.0 L761.9 261.3 M943.9 274.2 L950.8 282.4 M968.2 267.2 L968.1 273.5 M968.1 273.5 L953.8 283.4 M953.8 283.4 L950.8 282.4 M897.5 260.6 L893.8 258.7 M894.1 251.7 L890.8 255.7 M990.9 271.1 L975.6 266.3 M938.4 289.0 L950.8 282.4 M905.5 275.5 L907.1 270.2 M916.5 287.7 L905.5 275.5 M969.4 277.0 L968.1 273.5 M958.4 295.1 L956.7 294.5 M953.6 284.7 L953.8 283.4 M939.2 293.6 L945.4 292.8 M955.5 310.3 L952.3 312.7 M952.3 312.7 L949.1 322.5 M813.8 219.5 L814.1 219.8 M821.4 206.3 L820.9 213.1 M814.1 219.8 L820.9 213.1 M831.5 218.6 L827.6 218.3 M827.6 218.3 L820.9 213.1 M889.5 256.0 L887.0 261.3 M889.9 256.0 L889.5 256.0 M890.6 263.2 L890.4 264.6 M890.4 264.6 L887.0 261.3 M892.7 267.0 L891.3 267.7 M890.4 264.6 L891.3 267.7 M897.8 279.6 L905.5 275.5 M897.8 279.6 L891.0 268.2 M891.0 268.2 L891.3 267.7 M871.6 291.2 L875.2 286.6 M871.6 291.2 L878.6 297.0 M875.2 286.6 L885.2 281.6 M878.6 297.0 L892.7 287.8 M885.2 281.6 L892.6 287.3 M892.6 287.3 L892.7 287.8 M878.7 301.1 L878.6 297.0 M878.7 301.1 L865.6 314.2 M863.6 313.5 L861.0 289.6 M861.0 289.6 L871.6 291.2 M885.1 305.7 L878.7 301.1 M896.1 292.0 L892.7 287.8 M897.8 279.6 L892.6 287.3 M885.2 281.6 L884.0 279.4 M891.0 268.2 L886.3 269.7 M884.0 279.4 L886.3 269.7 M883.4 260.0 L878.5 267.3 M884.6 261.3 L883.4 260.0 M884.6 261.3 L884.1 268.4 M878.5 267.3 L884.1 268.4 M884.6 261.3 L887.0 261.3 M886.3 269.7 L884.1 268.4 M856.6 224.6 L870.7 238.7 M870.7 238.7 L880.9 235.1 M889.5 256.0 L884.9 254.4 M889.4 244.3 L884.9 254.4 M883.4 260.0 L881.1 255.1 M884.9 254.4 L881.1 255.1 M885.5 239.7 L879.5 249.0 M870.7 238.7 L870.2 240.3 M870.2 240.3 L879.5 249.0 M881.1 255.1 L878.3 254.4 M879.5 249.0 L878.3 254.4 M780.8 259.0 L777.3 250.5 M780.8 259.0 L775.7 272.2 M767.7 245.0 L776.6 249.8 M776.6 249.8 L777.3 250.5 M857.8 288.3 L859.4 288.1 M861.0 289.6 L859.4 288.1 M857.8 288.3 L848.2 308.5 M956.5 302.7 L953.8 303.4 M952.3 312.7 L951.0 308.0 M953.8 303.4 L951.0 308.0 M954.8 294.8 L950.9 300.8 M953.8 303.4 L950.9 300.8 M814.1 219.8 L814.6 224.6 M827.6 218.3 L818.6 226.8 M814.6 224.6 L818.6 226.8 M833.1 230.0 L829.0 232.2 M829.0 232.2 L822.7 231.6 M818.6 226.8 L822.7 231.6 M874.3 256.0 L878.3 254.4 M878.5 267.3 L877.5 267.2 M877.5 267.2 L874.4 260.4 M874.3 256.0 L874.1 257.0 M874.1 257.0 L874.4 260.4 M783.8 279.8 L802.4 262.6 M801.6 253.9 L800.9 251.9 M801.6 253.9 L802.9 260.3 M780.8 259.0 L794.1 252.6 M800.9 251.9 L794.1 252.6 M802.9 260.3 L802.4 262.6 M800.7 286.4 L812.3 277.4 M802.4 262.6 L812.3 277.4 M817.9 296.5 L820.5 278.2 M812.3 277.4 L820.5 278.2 M875.7 269.8 L881.1 278.3 M875.7 269.8 L874.4 270.5 M874.4 270.5 L874.0 278.6 M881.1 278.3 L874.5 278.9 M874.5 278.9 L874.0 278.6 M884.0 279.4 L881.1 278.3 M877.5 267.2 L875.7 269.8 M875.2 286.6 L874.5 278.9 M859.4 288.1 L860.3 284.7 M860.3 284.7 L865.2 279.4 M865.2 279.4 L874.0 278.6 M949.9 301.0 L948.9 305.9 M949.9 301.0 L940.3 296.8 M948.9 305.9 L941.5 304.2 M940.3 296.8 L941.5 304.2 M951.0 308.0 L948.9 305.9 M950.9 300.8 L949.9 301.0 M939.0 294.0 L940.3 296.8 M938.4 315.9 L941.5 304.2 M810.6 243.8 L810.6 235.4 M810.6 243.8 L810.9 243.8 M810.9 243.8 L817.2 240.5 M817.2 240.5 L811.8 230.1 M810.6 235.4 L811.8 230.1 M814.6 224.6 L812.1 226.2 M817.2 240.5 L817.3 240.5 M822.7 231.6 L817.3 240.5 M811.8 230.1 L812.1 226.2 M865.2 279.4 L867.0 272.8 M874.4 270.5 L869.2 270.9 M869.2 270.9 L867.0 272.8 M818.1 257.9 L822.6 253.5 M815.1 254.7 L818.1 257.9 M815.1 254.7 L820.0 251.7 M820.0 251.7 L822.6 253.5 M801.6 253.9 L815.1 254.7 M802.2 247.5 L800.9 251.9 M810.9 243.8 L819.8 251.4 M810.6 243.8 L802.2 247.5 M820.0 251.7 L819.8 251.4 M775.2 239.2 L780.5 242.0 M779.8 236.1 L781.7 240.0 M781.7 240.0 L780.5 242.0 M787.2 226.2 L792.6 233.6 M792.6 233.6 L788.9 237.5 M781.7 240.0 L787.2 238.9 M788.9 237.5 L787.2 238.9 M796.4 236.2 L797.6 238.3 M796.4 236.2 L806.4 227.1 M797.6 238.3 L808.0 233.7 M808.0 233.7 L808.5 226.9 M806.4 227.1 L808.5 226.9 M794.1 252.6 L786.4 247.2 M792.6 233.6 L796.4 236.2 M786.4 247.2 L788.9 237.5 M802.2 247.5 L797.6 238.3 M801.7 221.1 L806.4 227.1 M810.6 235.4 L808.0 233.7 M812.1 226.2 L808.5 226.9 M817.6 259.6 L828.7 268.4 M817.6 259.6 L811.8 261.6 M811.8 261.6 L826.7 274.5 M826.7 274.5 L828.7 269.0 M828.7 269.0 L828.7 268.4 M818.1 257.9 L817.6 259.6 M830.2 262.7 L828.7 268.4 M829.5 254.4 L830.2 262.7 M822.6 253.5 L829.5 254.4 M802.9 260.3 L811.8 261.6 M820.5 278.2 L826.6 275.0 M826.6 275.0 L826.7 274.5 M844.5 286.1 L838.7 287.0 M844.5 286.1 L855.4 288.2 M855.4 288.2 L846.8 300.1 M846.8 300.1 L838.5 287.6 M838.5 287.6 L838.7 287.0 M857.8 288.3 L855.4 288.2 M846.3 307.9 L846.8 300.1 M831.3 302.2 L838.5 287.6 M826.6 275.0 L833.2 280.5 M833.2 280.5 L838.7 287.0 M833.2 280.5 L844.4 271.7 M844.5 286.1 L847.2 275.3 M847.2 275.3 L844.4 271.7 M860.3 284.7 L856.6 275.6 M856.6 275.6 L851.1 272.8 M847.2 275.3 L851.1 272.8 M870.2 240.3 L865.4 249.3 M848.4 235.5 L848.5 233.0 M848.4 235.5 L848.5 236.1 M848.5 236.1 L857.3 244.8 M857.3 244.8 L865.4 249.3 M874.3 256.0 L865.5 249.8 M865.5 249.8 L865.4 249.3 M841.2 248.3 L842.5 250.4 M842.5 250.4 L850.8 252.8 M841.2 248.3 L848.4 236.3 M848.4 236.3 L851.8 251.7 M850.8 252.8 L851.8 251.7 M848.5 236.1 L848.4 236.3 M857.3 244.8 L853.7 251.1 M851.8 251.7 L853.7 251.1 M874.4 260.4 L870.3 264.2 M869.2 270.9 L868.8 269.0 M870.3 264.2 L868.8 269.0 M841.2 248.3 L833.7 249.9 M848.4 235.5 L830.9 241.7 M833.7 249.9 L830.9 241.7 M777.3 250.5 L785.0 246.9 M786.4 247.2 L785.4 246.8 M785.0 246.9 L785.4 246.8 M856.6 275.6 L857.6 271.5 M867.0 272.8 L861.0 267.8 M857.6 271.5 L858.2 270.2 M861.0 267.8 L858.2 270.2 M852.0 268.8 L857.6 271.5 M852.0 268.8 L853.9 266.5 M858.2 270.2 L853.9 266.5 M870.3 264.2 L867.0 264.2 M868.8 269.0 L866.9 266.4 M866.9 266.4 L867.0 264.2 M819.8 251.4 L821.9 245.5 M829.5 254.4 L830.1 253.4 M830.1 253.4 L821.9 245.5 M817.3 240.5 L821.0 242.8 M821.0 242.8 L821.9 245.5 M829.1 233.9 L824.1 242.9 M829.1 233.9 L830.7 241.2 M830.7 241.2 L824.7 243.1 M824.1 242.9 L824.7 243.1 M821.0 242.8 L824.1 242.9 M829.0 232.2 L829.1 233.9 M830.9 241.7 L830.7 241.2 M833.7 249.9 L830.7 252.6 M830.7 252.6 L824.7 243.1 M830.1 253.4 L830.7 252.6 M787.2 238.9 L785.4 241.2 M785.4 246.8 L785.2 245.9 M785.4 241.2 L785.2 245.9 M850.8 252.9 L854.3 253.9 M850.8 252.9 L851.1 255.4 M851.1 255.4 L854.3 253.9 M850.8 252.8 L850.8 252.9 M853.7 251.1 L856.0 254.0 M856.0 254.0 L854.3 253.9 M865.5 249.8 L863.6 252.1 M868.8 260.4 L864.1 261.0 M874.1 257.0 L868.8 260.4 M863.6 252.1 L862.1 258.9 M864.1 261.0 L862.1 258.9 M842.5 250.4 L842.8 251.7 M830.2 262.7 L837.8 260.8 M842.8 251.7 L841.6 257.1 M837.8 260.8 L841.6 257.1 M853.9 266.5 L853.9 266.2 M853.9 266.2 L852.6 265.5 M852.0 268.8 L851.7 269.0 M852.6 265.5 L849.8 266.2 M849.8 266.2 L849.5 267.0 M849.5 267.0 L851.7 269.0 M851.1 272.8 L850.8 271.4 M851.7 269.0 L850.8 271.4 M783.4 242.4 L784.1 244.2 M783.4 242.4 L781.0 243.0 M784.1 244.2 L781.3 243.5 M781.0 243.0 L781.0 243.3 M781.0 243.3 L781.3 243.5 M785.4 241.2 L783.4 242.4 M785.2 245.9 L784.1 244.2 M780.5 242.0 L781.0 243.0 M785.0 246.9 L781.3 243.5 M776.6 249.8 L781.0 243.3 M851.2 256.6 L852.7 257.3 M851.1 255.4 L851.2 256.6 M856.0 254.0 L856.6 254.5 M856.6 254.5 L852.7 257.3 M863.6 252.1 L857.2 254.5 M856.6 254.5 L857.2 254.5 M851.5 264.1 L852.0 265.0 M851.5 264.1 L849.0 263.9 M852.0 265.0 L849.4 264.9 M849.4 264.9 L848.9 264.0 M849.0 263.9 L848.9 264.0 M852.6 265.5 L852.0 265.0 M849.8 266.2 L849.4 264.9 M863.0 266.2 L866.7 263.8 M863.0 266.2 L862.2 266.3 M862.2 266.3 L864.5 262.4 M864.5 262.4 L866.6 263.6 M866.6 263.6 L866.7 263.8 M866.9 266.4 L863.0 266.2 M867.0 264.2 L866.7 263.8 M861.0 267.8 L861.1 267.0 M861.1 267.0 L862.2 266.3 M861.1 267.0 L858.3 262.3 M858.3 262.3 L862.1 258.9 M864.1 261.0 L864.5 262.4 M868.8 260.4 L866.6 263.6 M854.4 265.4 L853.9 266.2 M851.6 263.4 L852.2 262.5 M851.6 263.4 L851.5 264.1 M854.4 265.4 L852.5 262.2 M852.5 262.2 L852.2 262.5 M850.8 271.4 L846.7 269.1 M844.4 271.7 L844.3 269.5 M846.7 269.1 L844.3 269.5 M828.7 269.0 L841.5 267.6 M841.5 267.6 L843.1 268.3 M844.3 269.5 L843.1 268.3 M853.0 257.9 L856.6 259.5 M853.0 257.9 L852.7 260.6 M853.0 261.1 L852.7 260.6 M853.0 261.1 L858.1 262.3 M856.6 259.5 L858.1 262.3 M858.1 262.3 L858.1 262.3 M857.2 254.5 L856.6 259.5 M852.7 257.3 L853.0 257.9 M852.5 262.2 L853.0 261.1 M854.4 265.4 L858.1 262.3 M858.3 262.3 L858.1 262.3 M842.8 251.7 L846.8 256.9 M841.6 257.1 L843.0 259.6 M843.0 259.6 L843.0 259.6 M843.0 259.6 L844.7 259.7 M846.8 256.9 L845.7 259.2 M844.7 259.7 L845.7 259.2 M845.7 259.2 L845.8 259.5 M847.4 261.3 L845.8 259.5 M847.4 261.3 L847.8 261.1 M847.4 257.1 L848.3 259.8 M846.8 256.9 L847.4 257.1 M848.3 259.8 L847.8 261.1 M850.0 261.6 L850.7 262.1 M850.0 261.6 L849.2 263.5 M850.7 262.1 L850.9 263.0 M849.2 263.5 L850.9 263.0 M852.2 262.5 L850.7 262.1 M851.6 263.4 L850.9 263.0 M849.0 263.9 L849.2 263.5 M849.5 267.0 L848.7 267.2 M846.7 269.1 L847.3 268.3 M848.7 267.2 L847.3 268.3 M843.1 268.3 L845.9 265.0 M847.3 268.3 L846.9 264.8 M845.9 265.0 L846.9 264.8 M848.7 267.2 L847.2 264.7 M846.9 264.8 L847.2 264.7 M848.9 264.0 L848.1 263.9 M847.2 264.7 L848.1 263.9 M847.4 261.6 L847.4 261.3 M847.4 261.6 L847.8 263.3 M847.8 261.1 L849.9 261.5 M849.9 261.5 L850.0 261.6 M847.8 263.3 L848.1 263.9 M847.4 257.1 L848.7 257.0 M851.2 256.6 L850.7 256.8 M848.7 257.0 L850.7 256.8 M850.6 260.7 L850.3 260.9 M850.6 260.7 L850.4 258.8 M850.3 260.9 L849.2 259.9 M850.4 258.8 L849.4 259.6 M849.2 259.9 L849.4 259.6 M852.7 260.6 L850.6 260.7 M849.9 261.5 L850.3 260.9 M850.7 256.8 L850.4 258.8 M848.3 259.8 L849.2 259.9 M848.7 257.0 L849.4 259.6 M841.4 262.0 L842.1 265.3 M841.4 262.0 L839.9 261.4 M839.3 261.3 L839.9 261.4 M839.3 261.3 L841.9 265.8 M841.9 265.8 L842.1 265.3 M843.8 263.1 L843.0 261.8 M842.9 261.7 L843.0 261.8 M842.9 261.7 L841.4 262.0 M843.8 263.1 L842.1 265.3 M843.0 259.6 L839.9 261.4 M843.0 259.6 L842.9 261.7 M837.8 260.8 L839.3 261.3 M841.5 267.6 L841.9 265.8 M844.8 263.1 L843.8 263.1 M845.9 265.0 L844.8 263.1 M844.7 260.8 L845.6 261.8 M844.7 260.8 L844.4 261.2 M844.4 261.2 L845.0 262.9 M845.7 262.0 L845.6 261.8 M845.7 262.0 L845.2 262.7 M845.2 262.7 L845.0 262.9 M844.7 259.7 L844.7 260.8 M845.8 259.5 L845.6 261.8 M843.0 261.8 L844.4 261.2 M844.8 263.1 L845.0 262.9 M847.4 261.6 L845.7 262.0 M847.8 263.3 L845.2 262.7" fill="none" stroke="#d4d4d4" stroke-width="0.7" stroke-opacity="0.85"/>
<polygon points="587.2,29.0 622.5,29.5 640.0,38.5 655.0,46.5 670.4,57.2 715.2,58.1 715.2,52.3 734.1,53.0 741.4,54.5 745.0,58.1 750.4,62.6 755.8,67.1 760.0,69.8 762.7,75.3 766.3,80.7 768.1,86.2 773.5,91.6 780.7,96.1 786.2,99.7 788.9,98.8 793.4,91.6 797.0,88.0 801.5,87.1 806.0,88.0 812.4,87.1 816.9,90.7 822.3,97.0 825.3,100.0 828.9,107.2 831.6,112.7 836.2,119.9 838.9,122.6 843.4,127.1 845.2,134.4 848.8,141.6 854.2,145.2 861.5,147.9 866.9,148.8 872.3,149.7 877.8,150.6 879.6,152.4 876.9,154.2 875.5,162.7 872.5,174.7 870.8,180.0 870.6,189.2 871.1,192.0 871.5,205.0 872.0,212.0 872.5,218.4 874.5,220.5 876.5,222.5 878.0,225.0 877.4,228.2 879.1,232.5 882.3,238.0 885.6,243.4 888.3,245.8 892.6,251.6 896.2,257.4 898.4,263.1 901.3,266.8 904.9,269.7 911.4,271.1 917.2,273.3 922.3,276.9 925.9,279.1 930.2,279.8 935.0,278.5 943.4,274.4 952.4,271.6 961.5,268.9 968.7,267.1 975.0,266.7 980.8,262.8 984.6,257.0 986.6,249.3 987.5,239.7 988.5,230.1 991.4,225.2 996.2,222.3 1002.0,220.4 1009.7,217.5 1017.4,215.6 1025.1,214.6 1032.8,214.3 1038.6,213.7 1041.5,212.7 1043.4,214.6 1044.0,220.4 1042.5,226.2 1040.5,231.0 1036.7,235.8 1034.8,240.7 1036.7,246.4 1035.7,253.2 1033.8,260.9 1030.9,266.7 1027.0,270.5 1021.3,272.5 1017.4,273.4 1013.6,274.4 1012.6,277.3 1011.6,280.2 1000.0,280.8 988.0,282.2 984.6,283.4 983.0,286.8 981.3,291.8 983.0,294.3 988.0,299.4 993.1,303.6 994.8,308.7 988.0,310.4 979.6,311.2 974.5,313.8 972.0,318.8 969.5,325.6 968.6,330.6 968.6,337.4 966.9,339.1 962.7,335.7 957.6,330.6 950.9,323.9 944.1,318.8 937.4,315.4 930.6,313.8 923.9,314.6 917.1,315.4 910.4,318.0 901.9,322.2 895.2,323.5 886.8,322.2 878.0,318.8 870.3,316.0 862.6,313.1 854.9,310.2 847.2,308.2 839.5,305.3 831.7,302.4 822.1,298.6 814.4,294.7 808.6,290.9 802.8,287.0 793.2,284.1 785.4,281.2 779.6,276.0 774.5,271.0 767.1,264.8 761.0,260.7 755.8,255.5 751.7,251.5 748.7,247.4 747.7,244.3 750.7,242.2 748.7,240.2 750.7,237.1 752.8,233.0 753.8,226.9 750.7,222.8 746.5,214.0 744.0,208.0 741.0,201.0 737.5,194.2 733.5,188.8 730.6,183.4 725.2,178.9 718.9,175.3 714.4,170.7 708.9,165.3 703.5,160.8 697.2,157.2 693.6,152.7 692.7,147.2 694.2,142.6 691.8,137.9 688.7,133.2 684.8,130.1 681.7,127.0 678.5,123.8 677.0,119.1 673.8,116.0 669.1,112.9 663.7,109.0 659.7,105.0 656.6,100.4 654.3,95.7 653.5,89.4 650.4,84.7 648.8,80.0 646.0,77.4 644.2,68.4 643.3,61.2 641.5,55.7 636.0,52.1 632.4,51.5 627.0,50.3 621.5,48.5 619.0,48.0 618.5,55.0 619.8,62.0 621.0,70.0 623.0,76.0 626.8,80.8 631.2,85.1 635.5,90.9 638.4,96.7 641.3,102.5 643.5,108.3 645.7,114.0 648.5,118.4 651.4,122.7 654.3,127.1 657.2,132.9 660.2,138.6 663.9,145.8 667.5,150.6 669.9,160.2 672.3,165.1 674.7,172.3 677.1,177.1 681.9,181.9 684.3,179.0 686.7,184.3 690.4,191.6 689.6,196.4 686.0,199.0 682.2,200.5 681.9,197.6 677.1,191.6 672.3,184.3 666.3,179.5 660.2,174.7 655.4,172.3 650.6,168.7 648.2,165.1 650.6,155.4 649.4,148.2 647.0,142.2 641.0,137.3 638.4,132.9 635.5,131.4 631.2,130.7 626.8,128.5 622.5,124.2 618.1,121.3 615.2,117.0 610.9,114.0 608.0,111.2 612.4,111.9 616.7,112.6 621.0,111.9 623.2,109.7 624.6,106.8 625.4,102.5 623.2,98.1 619.6,93.8 615.2,89.5 609.5,83.7 605.1,79.3 602.2,75.0 599.9,63.9 599.0,58.5 597.2,52.1 593.6,44.9 592.7,41.3 589.0,33.1" fill="none" stroke="#d8d8d8" stroke-width="0.5"/>
</svg>
<div id="zoom"><div>+</div><div>&#8722;</div></div>
</body></html>
